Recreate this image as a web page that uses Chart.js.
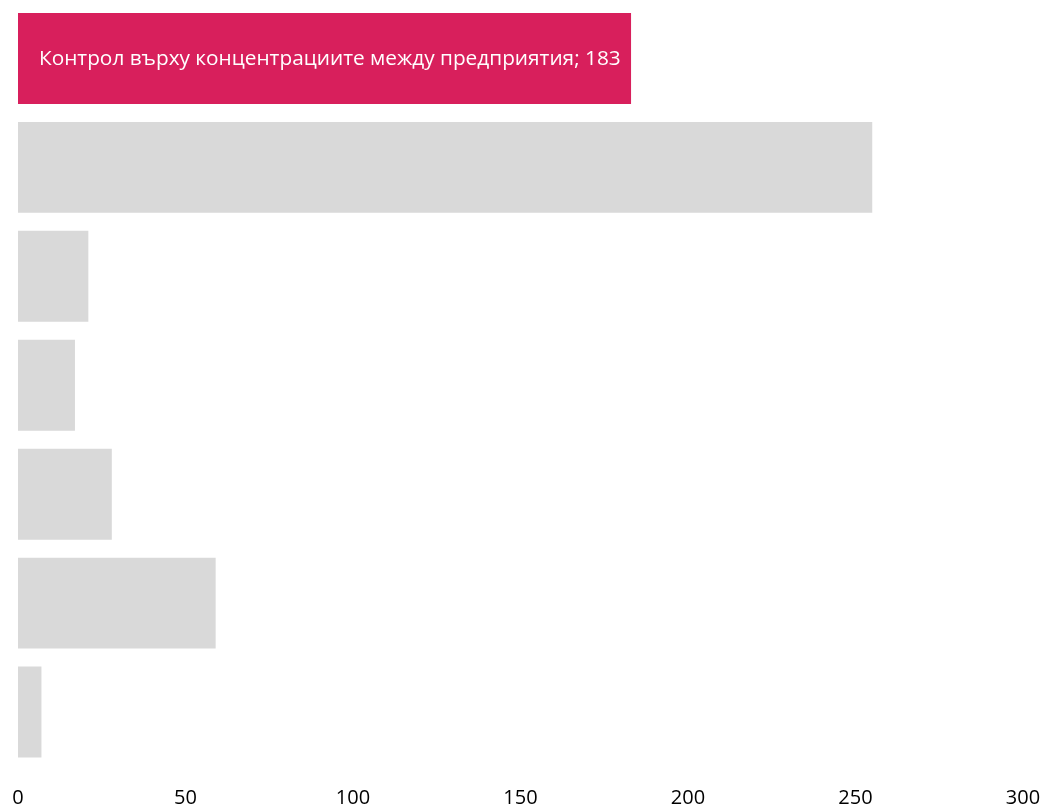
<!DOCTYPE html>
<html>
<head>
<meta charset="utf-8">
<script src="https://cdn.jsdelivr.net/npm/chart.js@4"></script>
<style>
  html, body { margin: 0; padding: 0; background: #fff; }
  canvas { display: block; }
</style>
</head>
<body>
<canvas id="chart" width="1045" height="807"></canvas>
<script>
const categories = ["Контрол върху концентрациите между предприятия", "", "", "", "", "", ""];
const values = [183, 255, 21, 17, 28, 59, 7];
const xTicks = [0, 50, 100, 150, 200, 250, 300];
const barColors = ["#d81f5c", "#d9d9d9", "#d9d9d9", "#d9d9d9", "#d9d9d9", "#d9d9d9", "#d9d9d9"];

// подпис само на първата лента
const innerLabel = {
  id: "innerLabel",
  afterDatasetsDraw(chart) {
    const ctx = chart.ctx;
    const bar = chart.getDatasetMeta(0).data[0];
    ctx.save();
    ctx.font = "20.8px 'Open Sans'";
    ctx.fillStyle = "#ffffff";
    ctx.textBaseline = "middle";
    ctx.textAlign = "left";
    ctx.fillText(categories[0] + "; " + values[0], bar.base + 21, bar.y + 1);
    ctx.restore();
  }
};

new Chart(document.getElementById("chart").getContext("2d"), {
  type: "bar",
  data: {
    labels: categories,
    datasets: [{
      data: values,
      backgroundColor: barColors,
      barPercentage: 0.835,
      categoryPercentage: 1
    }]
  },
  options: {
    indexAxis: "y",
    responsive: false,
    animation: false,
    layout: { padding: { left: 18, right: 22, top: 4, bottom: -14.5 } },
    plugins: { legend: { display: false }, tooltip: { enabled: false } },
    scales: {
      x: {
        min: 0,
        max: 300,
        afterBuildTicks: axis => { axis.ticks = xTicks.map(v => ({ value: v })); },
        afterFit: axis => { axis.paddingLeft = 0; axis.paddingRight = 0; },
        grid: { display: false },
        border: { display: false },
        ticks: { color: "#000", font: { family: "'Open Sans'", size: 20 }, padding: 11.5, maxRotation: 0 }
      },
      y: { display: false }
    }
  },
  plugins: [innerLabel]
});
</script>
</body>
</html>
